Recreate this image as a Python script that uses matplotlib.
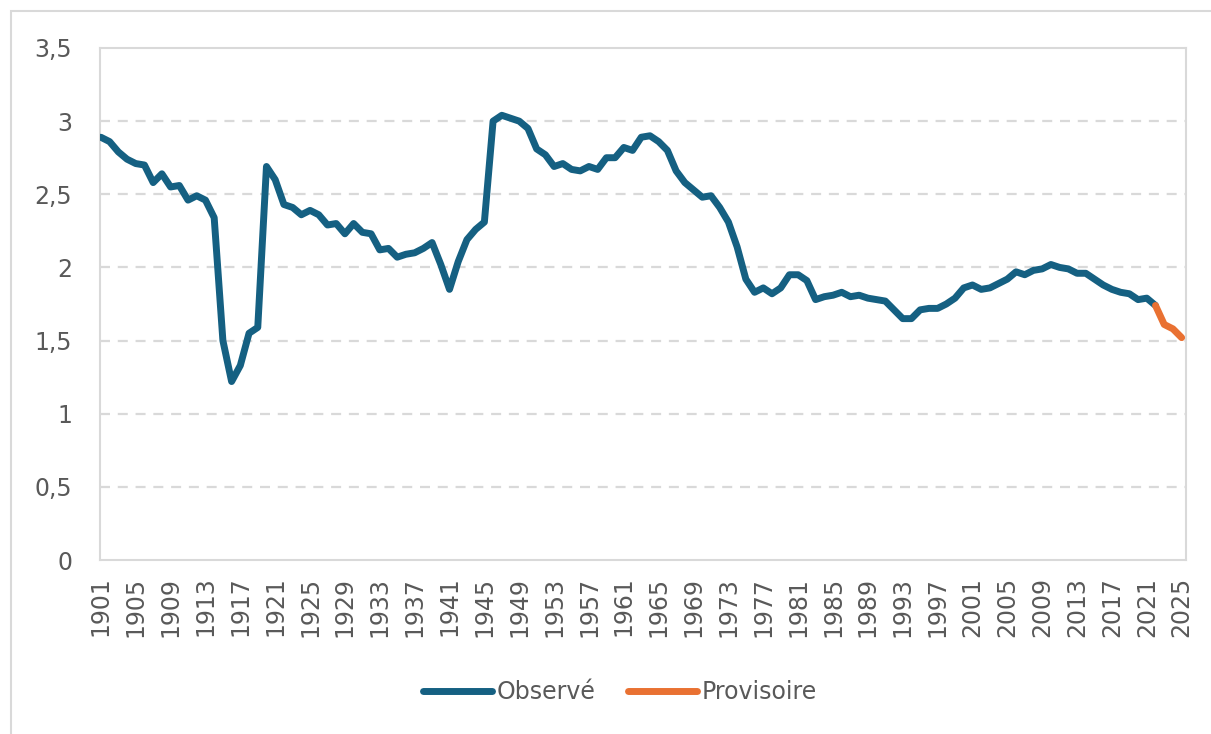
import matplotlib
matplotlib.use("Agg")
import matplotlib.pyplot as plt
from matplotlib.patches import Rectangle

# Indicateur conjoncturel de fécondité, 1901-2025
obs_years = list(range(1901, 2023))
obs_values = [
    2.89, 2.86, 2.79, 2.74, 2.71, 2.70, 2.58, 2.64, 2.55, 2.56,  # 1901-1910
    2.46, 2.49, 2.46, 2.34, 1.50, 1.22, 1.33, 1.55, 1.59, 2.69,  # 1911-1920
    2.60, 2.43, 2.41, 2.36, 2.39, 2.36, 2.29, 2.30, 2.23, 2.30,  # 1921-1930
    2.24, 2.23, 2.12, 2.13, 2.07, 2.09, 2.10, 2.13, 2.17, 2.02,  # 1931-1940
    1.85, 2.04, 2.19, 2.26, 2.31, 3.00, 3.04, 3.02, 3.00, 2.95,  # 1941-1950
    2.81, 2.77, 2.69, 2.71, 2.67, 2.66, 2.69, 2.67, 2.75, 2.75,  # 1951-1960
    2.82, 2.80, 2.89, 2.90, 2.86, 2.80, 2.66, 2.58, 2.53, 2.48,  # 1961-1970
    2.49, 2.41, 2.31, 2.14, 1.92, 1.83, 1.86, 1.82, 1.86, 1.95,  # 1971-1980
    1.95, 1.91, 1.78, 1.80, 1.81, 1.83, 1.80, 1.81, 1.79, 1.78,  # 1981-1990
    1.77, 1.71, 1.65, 1.65, 1.71, 1.72, 1.72, 1.75, 1.79, 1.86,  # 1991-2000
    1.88, 1.85, 1.86, 1.89, 1.92, 1.97, 1.95, 1.98, 1.99, 2.02,  # 2001-2010
    2.00, 1.99, 1.96, 1.96, 1.92, 1.88, 1.85, 1.83, 1.82, 1.78,  # 2011-2020
    1.79, 1.74,                                                  # 2021-2022
]
prov_years = [2022, 2023, 2024, 2025]
prov_values = [1.74, 1.61, 1.58, 1.52]

tick_years = list(range(1901, 2026, 4))
y_ticks = [0, 0.5, 1, 1.5, 2, 2.5, 3, 3.5]
y_labels = ["0", "0,5", "1", "1,5", "2", "2,5", "3", "3,5"]

blue = "#156082"
orange = "#E97132"
grey_txt = "#595959"
grey_line = "#d9d9d9"

W, H = 1211, 734
fig = plt.figure(figsize=(W / 100, H / 100), dpi=100)
ax = fig.add_axes([100 / W, (H - 560) / H, 1086 / W, 512 / H])

ax.plot(obs_years, obs_values, color=blue, lw=5, solid_capstyle="round",
        solid_joinstyle="round", label="Observé", zorder=3)
ax.plot(prov_years, prov_values, color=orange, lw=5, solid_capstyle="round",
        solid_joinstyle="round", label="Provisoire", zorder=4)

ax.set_xlim(1900.9, 2025.5)
ax.set_ylim(0, 3.5)
ax.set_xticks(tick_years)
ax.set_xticklabels([str(y) for y in tick_years], rotation=90)
ax.set_yticks(y_ticks)
ax.set_yticklabels(y_labels)
ax.tick_params(axis="both", length=0, labelsize=17, labelcolor=grey_txt)
ax.tick_params(axis="x", pad=12)
ax.tick_params(axis="y", pad=20)

for v in y_ticks[1:-1]:
    ax.axhline(v, color=grey_line, lw=1.6, dashes=(4.5, 3.5), zorder=1)

for s in ax.spines.values():
    s.set_color(grey_line)
    s.set_linewidth(1.5)

# chart area frame
fig.add_artist(Rectangle((11 / W, -0.1), 1.2, (H - 11) / H + 0.1,
                         transform=fig.transFigure, fill=False,
                         edgecolor=grey_line, lw=1.5))

leg = fig.legend(loc="center", bbox_to_anchor=(620 / W, (H - 692) / H),
                 ncol=2, frameon=False, fontsize=17, handlelength=2.9,
                 handletextpad=0.2, columnspacing=1.4)
for t in leg.get_texts():
    t.set_color(grey_txt)
for l in leg.get_lines():
    l.set_linewidth(5)
    l.set_solid_capstyle("round")

fig.savefig("out.png", dpi=100)
